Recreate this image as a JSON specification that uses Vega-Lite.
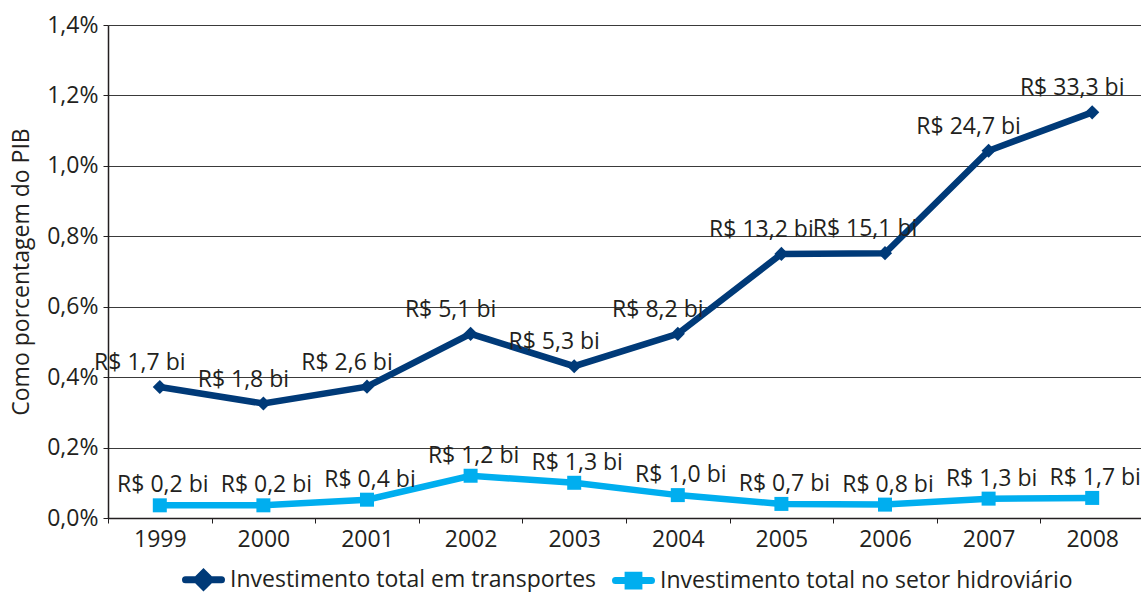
{
  "$schema": "https://vega.github.io/schema/vega-lite/v6.json",
  "width": 1036,
  "height": 493,
  "autosize": {"type": "none"},
  "padding": {"left": 108, "top": 25, "right": 0, "bottom": 74},
  "background": "white",
  "config": {
    "font": "Open Sans",
    "view": {"stroke": null},
    "axis": {"labelFont": "Open Sans", "titleFont": "Open Sans", "labelColor": "#231f20", "titleColor": "#231f20", "titleFontWeight": "normal"}
  },
  "data": {
    "values": [
      {"ano": "1999", "serie": "Investimento total em transportes", "pib": 0.372, "rotulo": "R$ 1,7 bi"},
      {"ano": "2000", "serie": "Investimento total em transportes", "pib": 0.325, "rotulo": "R$ 1,8 bi"},
      {"ano": "2001", "serie": "Investimento total em transportes", "pib": 0.373, "rotulo": "R$ 2,6 bi"},
      {"ano": "2002", "serie": "Investimento total em transportes", "pib": 0.523, "rotulo": "R$ 5,1 bi"},
      {"ano": "2003", "serie": "Investimento total em transportes", "pib": 0.431, "rotulo": "R$ 5,3 bi"},
      {"ano": "2004", "serie": "Investimento total em transportes", "pib": 0.523, "rotulo": "R$ 8,2 bi"},
      {"ano": "2005", "serie": "Investimento total em transportes", "pib": 0.750, "rotulo": "R$ 13,2 bi"},
      {"ano": "2006", "serie": "Investimento total em transportes", "pib": 0.752, "rotulo": "R$ 15,1 bi"},
      {"ano": "2007", "serie": "Investimento total em transportes", "pib": 1.043, "rotulo": "R$ 24,7 bi"},
      {"ano": "2008", "serie": "Investimento total em transportes", "pib": 1.152, "rotulo": "R$ 33,3 bi"},
      {"ano": "1999", "serie": "Investimento total no setor hidroviário", "pib": 0.036, "rotulo": "R$ 0,2 bi"},
      {"ano": "2000", "serie": "Investimento total no setor hidroviário", "pib": 0.036, "rotulo": "R$ 0,2 bi"},
      {"ano": "2001", "serie": "Investimento total no setor hidroviário", "pib": 0.052, "rotulo": "R$ 0,4 bi"},
      {"ano": "2002", "serie": "Investimento total no setor hidroviário", "pib": 0.120, "rotulo": "R$ 1,2 bi"},
      {"ano": "2003", "serie": "Investimento total no setor hidroviário", "pib": 0.100, "rotulo": "R$ 1,3 bi"},
      {"ano": "2004", "serie": "Investimento total no setor hidroviário", "pib": 0.065, "rotulo": "R$ 1,0 bi"},
      {"ano": "2005", "serie": "Investimento total no setor hidroviário", "pib": 0.040, "rotulo": "R$ 0,7 bi"},
      {"ano": "2006", "serie": "Investimento total no setor hidroviário", "pib": 0.038, "rotulo": "R$ 0,8 bi"},
      {"ano": "2007", "serie": "Investimento total no setor hidroviário", "pib": 0.055, "rotulo": "R$ 1,3 bi"},
      {"ano": "2008", "serie": "Investimento total no setor hidroviário", "pib": 0.057, "rotulo": "R$ 1,7 bi"}
    ]
  },
  "encoding": {
    "x": {
      "field": "ano",
      "type": "ordinal",
      "bandPosition": 0.5,
      "scale": {"type": "band", "paddingInner": 0, "paddingOuter": 0},
      "axis": {
        "title": null,
        "labelAngle": 0,
        "labelFontSize": 23,
        "labelPadding": 5,
        "tickBand": "extent",
        "tickSize": 5,
        "tickColor": "#231f20",
        "domainColor": "#231f20",
        "domainWidth": 1.5,
        "grid": false
      }
    },
    "y": {
      "field": "pib",
      "type": "quantitative",
      "scale": {"domain": [0, 1.4], "nice": false},
      "axis": {
        "title": "Como porcentagem do PIB",
        "titleFontSize": 23,
        "titlePadding": 13,
        "values": [0, 0.2, 0.4, 0.6, 0.8, 1.0, 1.2, 1.4],
        "labelExpr": "replace(format(datum.value, '.1f'), '.', ',') + '%'",
        "labelFontSize": 23,
        "labelPadding": 5,
        "tickSize": 5,
        "tickColor": "#231f20",
        "domainColor": "#231f20",
        "domainWidth": 1.5,
        "gridColor": "#3a3a3a",
        "gridWidth": 1
      }
    },
    "color": {
      "field": "serie",
      "type": "nominal",
      "scale": {
        "domain": ["Investimento total em transportes", "Investimento total no setor hidroviário"],
        "range": ["#003a78", "#00aeef"]
      },
      "legend": {
        "title": null,
        "orient": "none",
        "direction": "horizontal",
        "legendX": 74,
        "legendY": 533,
        "labelFontSize": 23,
        "labelColor": "#231f20",
        "labelLimit": 600,
        "labelOffset": 5,
        "columnPadding": 4,
        "symbolSize": 1296,
        "symbolStrokeWidth": 7,
        "encode": {
          "symbols": {
            "update": {
              "shape": {"signal": "datum.value === 'Investimento total em transportes' ? 'M-1,0H1M0,-0.38L0.38,0L0,0.38L-0.38,0Z' : 'M-1,0H1M-0.3,-0.3H0.3V0.3H-0.3Z'"},
              "fill": {"signal": "scale('color', datum.value)"},
              "stroke": {"signal": "scale('color', datum.value)"},
              "strokeWidth": {"value": 7},
              "strokeCap": {"value": "round"}
            }
          }
        }
      }
    }
  },
  "layer": [
    {
      "mark": {"type": "line", "strokeWidth": 6.5, "strokeJoin": "miter"}
    },
    {
      "transform": [{"filter": "datum.serie === 'Investimento total em transportes'"}],
      "mark": {"type": "point", "shape": "diamond", "filled": true, "opacity": 1, "size": 200}
    },
    {
      "transform": [{"filter": "datum.serie === 'Investimento total no setor hidroviário'"}],
      "mark": {"type": "point", "shape": "square", "filled": true, "opacity": 1, "size": 196}
    },
    {
      "transform": [{"filter": "datum.serie === 'Investimento total em transportes'"}],
      "mark": {"type": "text", "fontSize": 23, "baseline": "alphabetic", "align": "center", "dx": -20, "dy": -17},
      "encoding": {"text": {"field": "rotulo"}, "color": {"value": "#231f20"}}
    },
    {
      "transform": [{"filter": "datum.serie === 'Investimento total no setor hidroviário'"}],
      "mark": {"type": "text", "fontSize": 23, "baseline": "alphabetic", "align": "center", "dx": 3, "dy": -13},
      "encoding": {"text": {"field": "rotulo"}, "color": {"value": "#231f20"}}
    }
  ]
}
